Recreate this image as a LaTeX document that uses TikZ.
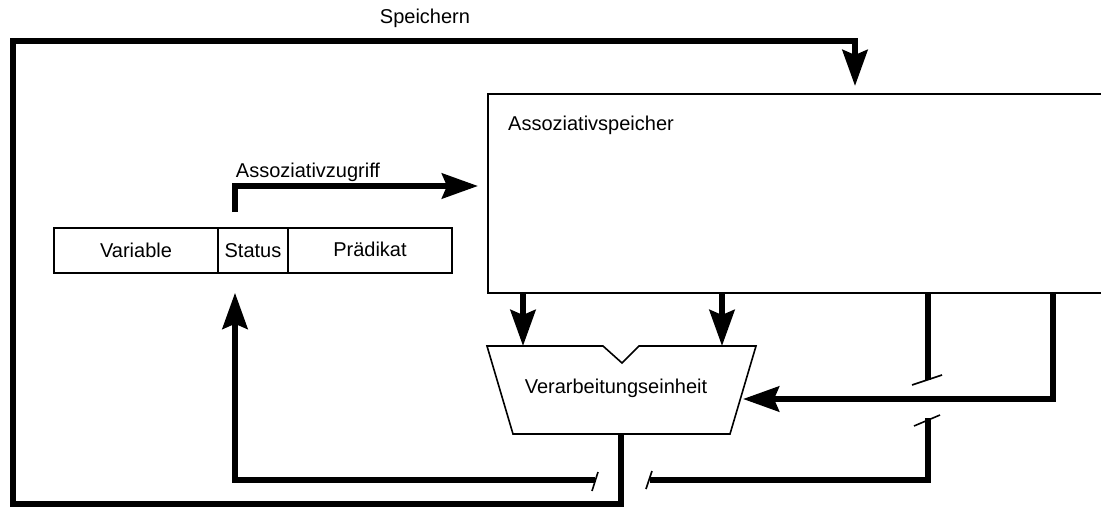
\documentclass[tikz,border=0pt]{standalone}
\usepackage{fontspec}
\setmainfont{Liberation Sans}
\usetikzlibrary{arrows.meta}

\begin{document}
\begin{tikzpicture}[x = 1pt, y = -1pt, > = {Stealth[length = 36pt, width = 25pt, inset = 5pt]}, font = \fontsize{20}{24}\selectfont]

	\useasboundingbox (0, 0) rectangle (1101, 508);

	% Register with its three fields

	\begin{scope}[every node/.style = {draw, line width = 1.6pt, minimum height = 45pt, inner sep = 0pt}]

		\node (variable) [minimum width = 164pt] at (136, 250.5) {Variable};
		\node (status) [minimum width = 70pt] at (253, 250.5) {Status};
		\node (praedikat) [minimum width = 164pt] at (370, 250.5) {\raisebox{2pt}{Pr\"adikat}};

	\end{scope}

	% Associative memory (runs off the right edge)

	\node (speicher) [draw, line width = 1.6pt, anchor = north west, minimum width = 640pt, minimum height = 199pt] at (487, 93) {};
	\node (speicherlabel) [anchor = west, inner sep = 0pt] at (508, 125) {Assoziativspeicher};

	% Processing unit

	\draw [line width = 1.6pt] (487, 346) -- (603, 346) -- (622, 363) -- (639, 346) -- (756, 346) -- (730, 434) -- (513, 434) -- cycle;
	\node (alu) at (616, 388) {Verarbeitungseinheit};

	\coordinate (alu in1) at (523, 346);
	\coordinate (alu in2) at (722, 346);
	\coordinate (alu in3) at (743, 399);
	\coordinate (alu out) at (621, 434);

	% Buses

	\begin{scope}[line width = 6pt]

		\coordinate (zugriff) at (235, 212);
		\draw [->, shorten >= 9pt] (zugriff) |- (speicher.west |- 0, 186);

		\draw [->] (speicher.south -| alu in1) -- (alu in1);
		\draw [->] (speicher.south -| alu in2) -- (alu in2);
		\draw [->] (speicher.south -| 1053, 0) |- (alu in3);

		\draw (speicher.south -| 928, 0) -- (928, 380);
		\draw (928, 418) |- (650, 480);
		\draw [->, shorten >= 19pt] (595, 480) -| (status.south -| 235, 0);

		\draw [->, shorten >= 7pt] (alu out) |- (13, 504) |- (855, 41) -- (speicher.north -| 855, 0);

	\end{scope}

	% Crossing marks

	\begin{scope}[line width = 1.6pt]

		\draw (912, 385) -- (942, 375);
		\draw (914, 426) -- (940, 415);
		\draw (592, 491) -- (598, 472);
		\draw (646, 489) -- (652, 471);

	\end{scope}

	% Labels

	\node (speichern) at (425, 18) {Speichern};
	\node (assoziativzugriff) at (308, 172) {Assoziativzugriff};

\end{tikzpicture}
\end{document}
